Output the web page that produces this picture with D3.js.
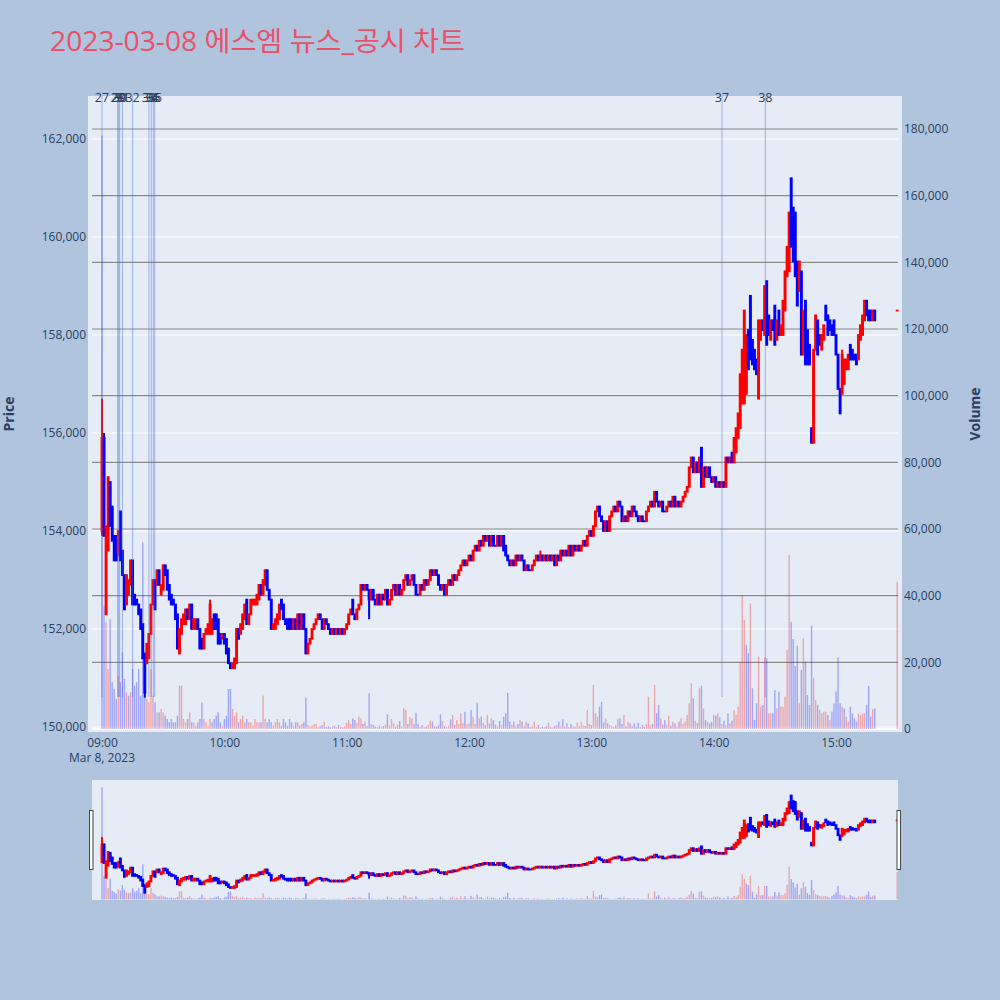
<!DOCTYPE html>
<html><head><meta charset="utf-8">
<script src="https://cdn.jsdelivr.net/npm/d3@7/dist/d3.min.js"></script>
<style>body{margin:0;background:#b0c4de}svg{display:block}</style>
</head><body>
<svg id="chart" width="1000" height="1000"></svg>
<script>
const chartTitle = "2023-03-08 에스엠 뉴스_공시 차트";
const tradeDate = [2023, 2, 8];
const sessionMinutes = d3.range(0, 380).concat([390]); // minutes after 09:00 (15:30 = closing auction)

const opens = [
154000,155900,152300,153600,155000,154500,153900,153900,153500,154400,
153600,153100,152500,152700,152900,153400,152700,152600,152500,152400,
152100,151500,151300,151400,151900,152500,153000,152900,153200,152700,
152800,153300,153200,152900,152700,152600,152500,152300,151500,151900,
152100,152100,152400,152200,152500,152000,152000,152200,152000,151800,
151600,151900,151900,151900,151900,152300,152300,152200,151900,151800,
151900,151800,151600,151300,151200,151200,151300,152000,151900,152000,
152200,152600,152100,152300,152500,152500,152500,152600,152900,152700,
152900,153200,152800,152600,152000,152000,152100,152200,152600,152500,
152200,152200,152200,152200,152000,152200,152000,152300,152000,152300,
152000,151500,151700,151800,152000,152100,152200,152300,152200,152000,
152200,152100,152000,151900,152000,151900,152000,151900,152000,151900,
152000,152100,152300,152600,152300,152200,152400,152500,152900,152800,
152900,152800,152600,152800,152600,152500,152700,152500,152700,152600,
152800,152500,152600,152800,152900,152700,152900,152700,152800,153000,
153100,152900,153000,153100,152900,152700,152700,152900,152800,153000,
152900,153000,153200,153100,153200,153100,152900,152800,152900,152700,
152900,153000,152900,153100,153000,153100,153200,153300,153400,153300,
153400,153500,153400,153600,153700,153600,153800,153700,153900,153800,
153900,153700,153900,153700,153700,153900,153700,153900,153700,153500,
153400,153300,153400,153300,153500,153400,153500,153400,153200,153300,
153200,153200,153300,153400,153500,153400,153500,153400,153500,153400,
153500,153400,153500,153300,153500,153400,153600,153500,153600,153500,
153700,153500,153700,153600,153700,153600,153700,153800,153700,153900,
154000,153900,154100,154400,154500,154300,154200,154000,154200,154000,
154300,154400,154500,154400,154600,154500,154200,154300,154200,154400,
154300,154500,154400,154300,154200,154300,154200,154200,154400,154500,
154600,154500,154800,154600,154500,154600,154400,154400,154500,154600,
154500,154700,154500,154600,154500,154600,154700,154800,154900,155300,
155500,155200,155400,155200,155700,154900,155300,155100,155300,155100,
155000,155100,154900,155000,154900,155000,154900,155500,155400,155600,
155400,155600,155900,156100,156600,156600,156800,158100,158800,157900,
157700,157500,156700,157900,158300,158000,159100,158400,157900,158300,
158600,157900,158500,158000,158000,158500,159200,159300,161200,160600,
160500,159500,158900,159300,157600,158700,158100,157800,156100,155800,
157700,158300,158000,157700,157900,158600,158400,158300,158200,158300,
158000,157600,156900,156800,157000,157300,157300,157800,157700,157600,
157600,157500,157900,158000,158300,158700,158500,158500,158300,158500,
158500];

const closes = [
155900,153900,154100,155100,154100,153800,153400,153400,154000,153400,
153100,152400,153100,153000,153400,152500,152500,152500,152300,152000,
151400,150700,151700,151900,152500,153000,152400,153200,152900,152900,
153300,153100,152800,152600,152500,152500,152200,151600,152000,152200,
152300,152400,152200,152500,152000,152200,152200,152000,151600,151600,
151900,152000,152100,152500,152200,152000,152000,151700,151700,151900,
151700,151500,151300,151200,151300,151400,152000,151800,152100,152300,
152500,152100,152300,152600,152600,152600,152700,152900,152700,153000,
153200,152800,152600,152000,152100,152200,152300,152500,152400,152200,
152100,152000,152000,152000,152200,152000,152300,152000,152300,152000,
151500,151700,151800,152000,152100,152200,152300,152200,152000,152200,
152100,152000,151900,152000,151900,152000,151900,152000,151900,152000,
152100,152300,152400,152300,152200,152400,152500,152900,152800,152900,
152800,152600,152800,152600,152500,152700,152500,152700,152600,152800,
152500,152600,152800,152900,152700,152900,152700,152800,153000,153100,
152900,153000,153100,152900,152700,152700,152900,152800,153000,152900,
153000,153200,153100,153200,153100,152900,152800,152900,152700,152900,
153000,152900,153100,153000,153100,153200,153300,153400,153300,153400,
153500,153400,153600,153700,153600,153800,153700,153900,153800,153900,
153700,153900,153700,153700,153900,153700,153900,153600,153500,153400,
153300,153400,153300,153500,153400,153500,153400,153200,153300,153200,
153200,153300,153400,153500,153400,153500,153400,153500,153400,153500,
153400,153500,153300,153500,153400,153600,153500,153600,153500,153700,
153500,153700,153600,153700,153600,153700,153800,153700,153900,154000,
153900,154100,154400,154500,154300,154200,154000,154200,154000,154300,
154400,154500,154400,154600,154500,154200,154300,154200,154400,154300,
154500,154400,154300,154200,154300,154200,154200,154400,154500,154600,
154500,154800,154600,154500,154600,154400,154400,154500,154600,154500,
154700,154500,154600,154500,154600,154700,154800,154900,155300,155500,
155200,155400,155200,155500,154900,155300,155100,155300,155100,155000,
155100,154900,155000,154900,155000,154900,155500,155400,155500,155400,
155900,156100,156400,157200,157700,158500,158000,157300,157500,157400,
157300,157200,158300,158300,158100,159000,157800,158000,158300,158100,
157800,158300,158000,158200,158700,159300,159800,160500,159800,159500,
159200,158600,159500,157600,158500,157400,157400,157400,155800,157700,
158400,157600,157800,158000,158200,158300,158000,158100,158000,158000,
157600,156900,156400,157600,157500,157500,157600,157500,157500,157500,
157400,158000,158200,158400,158700,158400,158300,158300,158500,158300,
158500];

const wickHighs = [[0,156700],[1,156000],[53,152600],[215,153600],[363,157700]];
const wickLows = [[0,153900],[21,150600],[131,152200]];

const volumes = [
178000,37000,32000,18000,33000,14000,12000,9000,16000,14000,
23000,15000,11000,10000,11000,18000,13000,14000,18000,10000,
56000,10000,9000,8000,18000,10000,8000,5000,5000,6000,
5000,4000,3000,2000,3000,2000,2000,4000,13000,13000,
3000,2000,3000,5000,2000,2000,1000,2000,3000,8000,
3000,2000,1000,3000,2000,3000,4000,5000,2000,1000,
3000,4000,12000,12000,6000,4000,5000,2000,3000,4000,
2000,3000,2000,2000,1000,3000,2000,2000,2000,10000,
3000,2000,3000,2000,1000,2000,3000,2000,1000,3000,
2000,1000,3000,2000,1000,2000,2000,1000,1500,2000,
9400,1200,800,1000,1500,1500,700,900,1200,2200,
600,900,500,800,1000,600,1200,700,500,900,
1800,2700,1500,3200,2700,1800,3700,3200,1500,2200,
900,10700,1500,1200,800,600,1000,700,900,1300,
4400,1100,3000,1700,800,1200,2400,900,6200,5700,
1500,3500,3200,1400,4900,1500,700,1200,600,800,
1300,2500,2200,900,700,1100,4400,2400,900,600,
1000,2900,4200,1200,2700,1500,4700,1800,5200,1400,
1600,5700,3700,1500,7900,3200,3700,1800,1100,4200,
1600,3200,2700,1300,900,2400,1200,3700,4700,10800,
2200,1200,2200,900,1500,2700,2200,800,2200,1700,
600,900,2200,700,1200,500,800,600,900,1900,
700,500,900,1200,2200,900,2900,800,1700,600,
1500,900,700,1900,800,2200,1100,900,5700,1500,
1200,13200,4700,3700,6700,8200,1900,3200,1700,1200,
900,700,1100,2900,3200,1500,4200,800,2200,1700,
900,1700,700,1900,600,1200,800,1500,9700,1100,
1500,13200,4700,7200,3200,1300,2700,1200,4000,1000,
2200,1700,800,2200,3200,1500,2200,4200,7700,13700,
9200,2500,1800,12200,13000,6200,2700,2200,1700,2200,
4200,4000,4700,3500,1500,2500,1200,4700,1700,2500,
5700,4200,6700,20200,40200,32700,25200,22700,37700,12200,
2700,7700,21700,6700,7200,21500,21200,4700,4700,4700,
11700,6200,11200,6700,6700,9700,23700,52200,32200,27000,
18900,25000,7700,17700,27200,20200,10200,7200,31000,15400,
8700,7200,5700,4700,5200,5200,4200,2700,5200,7700,
11200,21500,7700,6700,6200,3700,2200,6700,4700,3200,
2200,4700,4200,4700,4700,7200,12900,3700,5900,6200,
44200];

const newsLabels = ["27","28","29","30","31","32","33","34","35","36","37","38"];
const newsTimes = ["09:00:00","09:07:40","09:08:10","09:08:40","09:10:00","09:15:00",
                   "09:23:00","09:24:10","09:25:10","09:25:50","14:04:05","14:25:20"];
const priceTicks = [150000,152000,154000,156000,158000,160000,162000];
const volumeTicks = [0,20000,40000,60000,80000,100000,120000,140000,160000,180000];
const timeTicks = ["09:00","10:00","11:00","12:00","13:00","14:00","15:00"];
const dateLabel = "Mar 8, 2023";

// ---------- build table ----------
const base = new Date(tradeDate[0], tradeDate[1], tradeDate[2], 9, 0, 0);
const atTime = s => { const p = s.split(":").map(Number);
  return new Date(tradeDate[0], tradeDate[1], tradeDate[2], p[0], p[1], p[2] || 0); };
const hiMap = new Map(wickHighs), loMap = new Map(wickLows);
const candles = sessionMinutes.map((m, i) => {
  const o = opens[i], c = closes[i];
  let h = Math.max(o, c), l = Math.min(o, c);
  if (hiMap.has(i)) h = Math.max(h, hiMap.get(i));
  if (loMap.has(i)) l = Math.min(l, loMap.get(i));
  const pc = i > 0 ? closes[i - 1] : null;
  const up = c > o ? true : c < o ? false : (pc !== null && c > pc);
  const volUp = pc === null ? false : (c > pc ? true : c < pc ? false : up);
  return { t: d3.timeMinute.offset(base, m), o, h, l, c, v: volumes[i], up, volUp };
});

// ---------- scales ----------
const X0 = 92, X1 = 898, Y0 = 96, Y1 = 732, S0 = 780, S1 = 900;
const x = d3.scaleTime()
  .domain([new Date(+base - 4.905 * 60000), new Date(+base + 390.4 * 60000)])
  .range([X0, X1]);
const yP = d3.scaleLinear().domain([149898, 162878]).range([Y1, Y0]);
const yV = d3.scaleLinear().domain([-900, 189900]).range([Y1, Y0]);
const yPs = yP.copy().range([S1, S0]);
const yVs = yV.copy().range([S1, S0]);

const FONT = "'Open Sans', 'Noto Sans', sans-serif";
const INK = "#2a3f5f";
const svg = d3.select("#chart");
svg.append("rect").attr("width", 1000).attr("height", 1000).attr("fill", "#b0c4de");

svg.append("text").attr("x", 50).attr("y", 50.5)
  .attr("font-family", "'Open Sans', 'Noto Sans CJK KR', sans-serif")
  .attr("font-size", 27).attr("fill", "#ea5068")
  .attr("textLength", 415).attr("lengthAdjust", "spacingAndGlyphs")
  .text(chartTitle);

const defs = svg.append("defs");
defs.append("clipPath").attr("id", "clipMain").append("rect")
  .attr("x", 88).attr("y", Y0).attr("width", 814).attr("height", Y1 - Y0);
defs.append("clipPath").attr("id", "clipSlider").append("rect")
  .attr("x", X0).attr("y", S0).attr("width", X1 - X0).attr("height", S1 - S0);

// main background & grids
svg.append("rect").attr("x", 88).attr("y", Y0).attr("width", 814).attr("height", Y1 - Y0).attr("fill", "#e5ecf6");
const grid = svg.append("g");
grid.selectAll("line.pg").data(priceTicks).join("line")
  .attr("x1", X0).attr("x2", X1).attr("y1", d => yP(d)).attr("y2", d => yP(d))
  .attr("stroke", "#ffffff").attr("stroke-width", 1);
grid.selectAll("line.vg").data(volumeTicks.filter(d => d > 0)).join("line")
  .attr("class", "vg")
  .attr("x1", X0).attr("x2", X1).attr("y1", d => yV(d)).attr("y2", d => yV(d))
  .attr("stroke", "#8a8a8a").attr("stroke-width", 1.2);
grid.append("line").attr("x1", X0).attr("x2", X1).attr("y1", yV(0)).attr("y2", yV(0))
  .attr("stroke", "#ffffff").attr("stroke-width", 2);

function drawTraces(g, yp, yv) {
  g.selectAll("rect.vol").data(candles).join("rect").attr("class", "vol")
    .attr("x", d => x(d.t) - 0.7).attr("width", 1.4)
    .attr("y", d => yv(d.v)).attr("height", d => yv(0) - yv(d.v))
    .attr("fill", d => d.volUp ? "rgba(255,0,0,0.3)" : "rgba(0,0,255,0.3)");
  const cg = g.selectAll("g.candle").data(candles).join("g").attr("class", "candle")
    .attr("stroke", d => d.up ? "#ff0000" : "#0000ff");
  cg.append("line")
    .attr("x1", d => x(d.t)).attr("x2", d => x(d.t))
    .attr("y1", d => yp(d.h)).attr("y2", d => yp(d.l)).attr("stroke-width", 2);
  cg.append("line")
    .attr("x1", d => x(d.t)).attr("x2", d => x(d.t))
    .attr("y1", d => yp(Math.max(d.o, d.c)) - 0.9).attr("y2", d => yp(Math.min(d.o, d.c)) + 0.9)
    .attr("stroke-width", 2.9);
}
drawTraces(svg.append("g").attr("clip-path", "url(#clipMain)"), yP, yV);

// news lines & labels
const news = newsLabels.map((lab, i) => ({ lab, t: atTime(newsTimes[i]) }));
svg.append("g").selectAll("line").data(news).join("line")
  .attr("x1", d => x(d.t)).attr("x2", d => x(d.t)).attr("y1", Y0).attr("y2", 697)
  .attr("stroke", "#4169e1").attr("stroke-opacity", 0.45).attr("stroke-width", 1);
svg.append("g").selectAll("text").data(news).join("text")
  .attr("x", d => x(d.t)).attr("y", 101.5).attr("text-anchor", "middle")
  .attr("font-family", FONT).attr("font-size", 12.5).attr("fill", INK).text(d => d.lab);

// axes
function styleAxis(g) {
  g.select(".domain").remove();
  g.selectAll("text").attr("font-family", FONT).attr("font-size", 12).attr("fill", INK);
}
svg.append("g").attr("transform", `translate(${X0},0)`)
  .call(d3.axisLeft(yP).tickValues(priceTicks).tickFormat(d3.format(",")).tickSize(0).tickPadding(6))
  .call(styleAxis);
svg.append("g").attr("transform", `translate(${X1},0)`)
  .call(d3.axisRight(yV).tickValues(volumeTicks).tickFormat(d3.format(",")).tickSize(0).tickPadding(6))
  .call(styleAxis);
svg.append("g").attr("transform", `translate(0,${Y1})`)
  .call(d3.axisBottom(x).tickValues(timeTicks.map(atTime)).tickFormat(d3.timeFormat("%H:%M")).tickSize(0).tickPadding(6))
  .call(styleAxis);
svg.append("text").attr("x", x(atTime(timeTicks[0]))).attr("y", 761.5).attr("text-anchor", "middle")
  .attr("font-family", FONT).attr("font-size", 12).attr("fill", INK).text(dateLabel);

svg.append("text").attr("transform", `translate(14,${(Y0 + Y1) / 2}) rotate(-90)`)
  .attr("text-anchor", "middle").attr("font-family", FONT).attr("font-size", 14)
  .attr("font-weight", "bold").attr("fill", INK).text("Price");
svg.append("text").attr("transform", `translate(980,${(Y0 + Y1) / 2}) rotate(-90)`)
  .attr("text-anchor", "middle").attr("font-family", FONT).attr("font-size", 14)
  .attr("font-weight", "bold").attr("fill", INK).text("Volume");

// range slider
svg.append("rect").attr("x", X0).attr("y", S0).attr("width", X1 - X0).attr("height", S1 - S0).attr("fill", "#e5ecf6");
drawTraces(svg.append("g").attr("clip-path", "url(#clipSlider)"), yPs, yVs);
[X0 - 2.5, X1 - 1].forEach(hx => {
  svg.append("rect").attr("x", hx).attr("y", 810.5).attr("width", 3.5).attr("height", 59)
    .attr("fill", "#ffffff").attr("stroke", "#444444").attr("stroke-width", 1);
});
</script>
</body></html>
